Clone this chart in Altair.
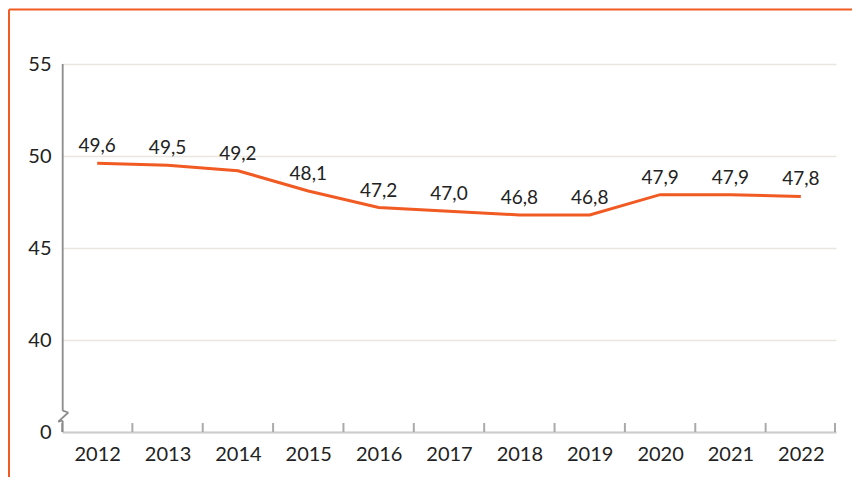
import altair as alt
import pandas as pd

years = ["2012", "2013", "2014", "2015", "2016", "2017", "2018", "2019", "2020", "2021", "2022"]
values = [49.6, 49.5, 49.2, 48.1, 47.2, 47.0, 46.8, 46.8, 47.9, 47.9, 47.8]
y_ticks = [35, 40, 45, 50, 55]

df = pd.DataFrame({"year": years, "value": values})
df["label"] = df["value"].map(lambda v: f"{v:.1f}".replace(".", ","))

W, H = 774, 368
FONT = "Lato"
ORANGE = "#F15A22"

xscale = alt.Scale(type="band", paddingInner=0, paddingOuter=0, domain=years)
yscale = alt.Scale(domain=[35, 55], nice=False, zero=False)

base = alt.Chart(df)

line = base.mark_line(color=ORANGE, strokeWidth=3).encode(
    x=alt.X("year:N", scale=xscale, title=None,
            axis=alt.Axis(tickBand="extent", ticks=False, labelAngle=0,
                          labelFont=FONT, labelFontSize=20, labelColor="#222222",
                          labelPadding=12, domainColor="#cccccc", domainWidth=2,
                          grid=False)),
    y=alt.Y("value:Q", scale=yscale, title=None,
            axis=alt.Axis(values=y_ticks, domain=False, ticks=False,
                          labelExpr="datum.value == 35 ? '0' : datum.label",
                          labelFont=FONT, labelFontSize=20, labelColor="#222222",
                          labelPadding=11, gridColor="#e9e6df", gridWidth=1.5)),
)

labels = base.mark_text(dy=-17, font=FONT, fontSize=19, color="#222222").encode(
    x=alt.X("year:N", scale=xscale),
    y=alt.Y("value:Q", scale=yscale),
    text="label:N",
)

ticks = alt.Chart(pd.DataFrame({"year": years})).mark_rule(color="#aaaaaa", strokeWidth=2).encode(
    x=alt.X("year:N", scale=xscale, bandPosition=0),
    y=alt.value(H - 9),
    y2=alt.value(H),
)


def seg(x1, y1, x2, y2, color="#8c8c8c", w=1.8):
    return alt.Chart(pd.DataFrame({"a": [0]})).mark_rule(color=color, strokeWidth=w).encode(
        x=alt.value(x1), x2=alt.value(x2), y=alt.value(y1), y2=alt.value(y2)
    )

last_tick = seg(W - 1, H - 9, W - 1, H, color="#aaaaaa", w=2)

# y axis line with a break
axis_parts = [
    seg(0.7, 0, 0.7, 346.7),
    seg(0.7, 346.7, 6.3, 348.5),
    seg(6.3, 348.5, -3.7, 357.7),
    seg(-3.7, 357.7, 0.7, 356.7),
    seg(0.7, 356.7, 0.7, H),
]

# orange frame
frame = [
    seg(-53, -54.5, W + 20, -54.5, color=ORANGE, w=2),
    seg(-53, -54.5, -53, H + 60, color=ORANGE, w=2),
]

chart = alt.layer(line, labels, ticks, last_tick, *axis_parts, *frame).properties(
    width=W, height=H,
    background="white",
    padding={"left": 54, "top": 56, "right": 16, "bottom": 45},
    autosize=alt.AutoSizeParams(type="none"),
).configure_view(stroke="transparent", strokeWidth=0)

chart.save("out.html", embed_options={"renderer": "svg", "actions": False})
